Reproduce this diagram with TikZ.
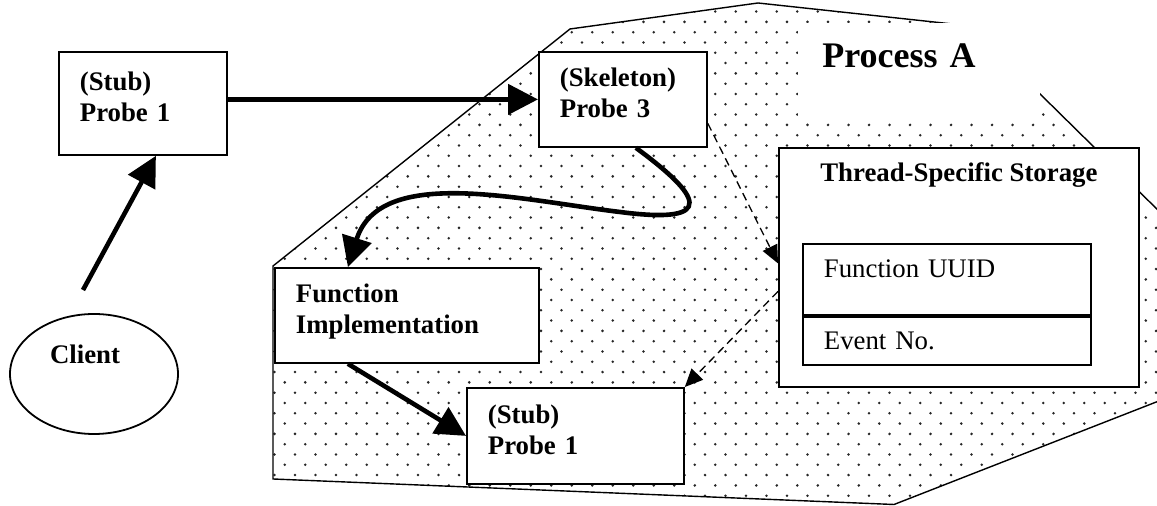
\documentclass[tikz,border=0pt]{standalone}
\usepackage{fontspec}
\setmainfont{Liberation Serif}
\usetikzlibrary{arrows.meta,shapes.geometric,positioning}

\tikzset{
  probebox/.style={draw, line width=0.9pt, fill=white, anchor=north west, align=left,
    inner xsep=10.5pt, inner ysep=0pt, text depth=22pt,
    font=\fontsize{13.4}{15.5}\selectfont\bfseries},
  storebox/.style={draw, line width=0.9pt, fill=white, anchor=north west, inner sep=0pt},
  fieldbox/.style={draw, line width=0.9pt, fill=white, anchor=north west, align=left,
    inner xsep=10.5pt, inner ysep=0pt, font=\fontsize{13.4}{15.5}\selectfont},
  clientnode/.style={ellipse, draw, line width=0.9pt, fill=white, align=left, inner sep=0pt,
    text width=44pt, minimum width=84pt, minimum height=60pt, text depth=20pt,
    font=\fontsize{13.4}{15.5}\selectfont\bfseries},
  processlabel/.style={fill=white, anchor=north west, align=left, inner xsep=12pt, inner ysep=0pt,
    text width=97pt, minimum height=48.5pt, text depth=16pt,
    font=\fontsize{18}{21}\selectfont\bfseries},
  callarrow/.style={line width=2.3pt, -{Triangle[length=15pt,width=15pt]}},
  tssarrow/.style={line width=0.65pt, dash pattern=on 4pt off 2.5pt, -{Triangle[length=9pt,width=8pt]}},
  processdots/.style={fill=black!85},
}

\begin{document}
\begin{tikzpicture}[x=0.5pt, y=-0.5pt]
        \useasboundingbox (0,0) rectangle (1157,506);
        \clip (0,0) rectangle (1157,506);

        %%Process A region
        \coordinate (pa) at (273,479);
        \coordinate (pb) at (273,266);
        \coordinate (pc) at (570,29);
        \coordinate (pd) at (758,3);
        \coordinate (pe) at (971,26);
        \coordinate (pf) at (1297,347);
        \coordinate (pg) at (894,504.5);
        \begin{scope}
            \clip (pa) -- (pb) -- (pc) -- (pd) -- (pe) -- (pf) -- (pg) -- cycle;
            \foreach \j in {0,...,49}
                \foreach \i in {13,...,56}
                    \fill[processdots] ({8+20.5*\i+10.25*mod(\j,2)}, {1.3+10.3*\j}) circle[radius=0.7pt];
        \end{scope}
        \draw[line width=0.7pt] (pa) -- (pb) -- (pc) -- (pd) -- (pe) -- (pf) -- (pg) -- cycle;
        \node[processlabel] (proc) at (798,23) {Process A};

        %%Client
        \node[clientnode] (client) at (94,374) {Client};
        \coordinate (clienttail) at (83,290);

        %%Probes
        \node[probebox, text width=63pt, minimum height=51.5pt] (stub) at (58,51) {(Stub)\\Probe 1};
        \node[probebox, text width=63pt, minimum height=47.5pt] (skel) at (538,51) {(Skeleton)\\Probe 3};
        \node[probebox, text width=111pt, minimum height=47.5pt] (fi) at (274,267) {Function\\Implementation};
        \node[probebox, text width=87.5pt, minimum height=48pt] (lstub) at (466,387) {(Stub)\\Probe 1};

        %%TSS
        \node[storebox, minimum width=180pt, minimum height=119.5pt,
            label={[anchor=base, yshift=-17.5pt, font=\fontsize{13.4}{15.5}\selectfont\bfseries]north:Thread-Specific Storage}]
            (tss) at (778,147) {};
        \node[fieldbox, text width=123pt, minimum height=35.5pt, text depth=10.4pt] (uuid) at (802,243) {Function UUID};
        \node[fieldbox, text width=123pt, minimum height=24pt] (evno) at (uuid.south west) {Event No.};

        %%calls
        \draw[callarrow] (stub.east |- skel.west) -- (skel.west);
        \draw[callarrow] (clienttail) -- ([xshift=6.5pt]stub.south);
        \draw[callarrow] ([xshift=6.5pt]skel.south) .. controls (700,195) and (720,225) .. (620,212)
            .. controls (520,200) and (380,165) .. ([xshift=-29.5pt]fi.north);
        \draw[callarrow] ([xshift=-29.5pt]fi.south) -- (lstub.west);

        %%storage access
        \draw[tssarrow] ([yshift=-12pt]skel.east) -- ([yshift=2pt]tss.west);
        \draw[tssarrow] ([yshift=-12pt]tss.west) -- (lstub.north east);
\end{tikzpicture}
\end{document}
